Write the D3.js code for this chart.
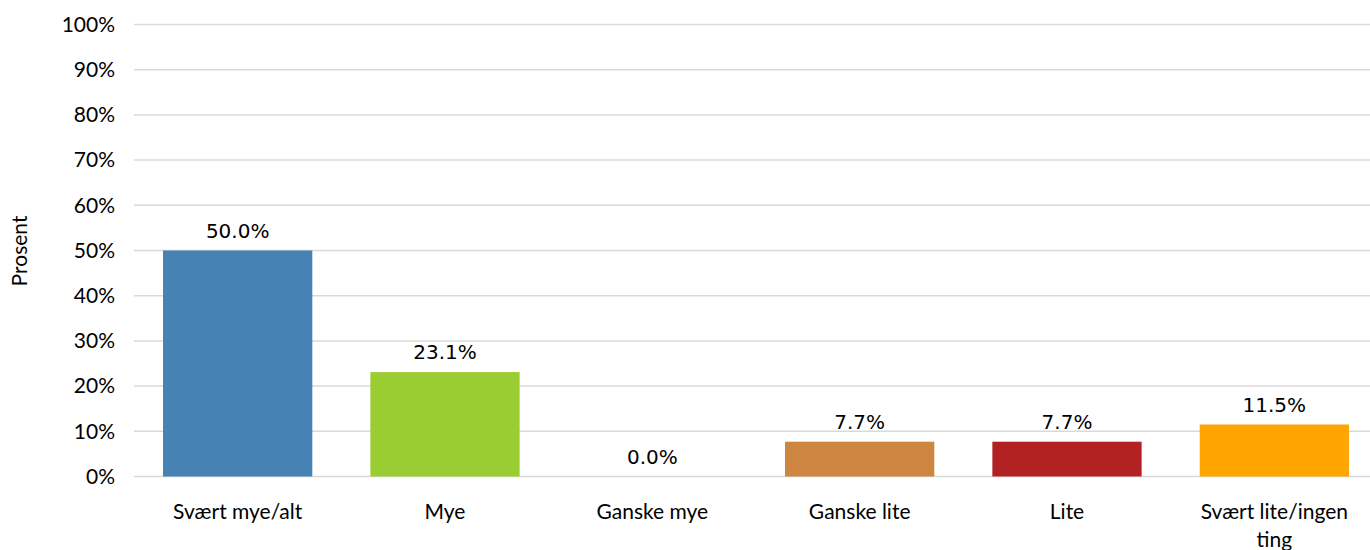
<!DOCTYPE html>
<meta charset="utf-8">
<html>
<head>
<style>
body { margin: 0; background: #fff; }
.tick text { font-family: Lato, "Open Sans", sans-serif; font-size: 21px; fill: #000; }
.lbl { font-family: "DejaVu Sans", sans-serif; font-size: 20px; fill: #000; }
</style>
</head>
<body>
<script src="https://d3js.org/d3.v7.min.js"></script>
<script>

var categories = ["Svært mye/alt", "Mye", "Ganske mye", "Ganske lite", "Lite", "Svært lite/ingen ting"];
var values = [50.0, 23.1, 0.0, 7.7, 7.7, 11.5];
var colors = ["#4682b4", "#9acd32", "#dc143c", "#cd853f", "#b22222", "#ffa500"];
var yTicks = [0, 10, 20, 30, 40, 50, 60, 70, 80, 90, 100];

var width = 1370, height = 550;

var svg = d3.select("body").append("svg")
  .attr("width", width)
  .attr("height", height);

var x = d3.scaleBand()
  .domain(categories)
  .range([134, 1378])
  .paddingInner(0.28)
  .paddingOuter(0.14);

var y = d3.scaleLinear()
  .domain([0, 100])
  .range([476.5, 24.5]);

// grid lines
svg.append("g")
  .selectAll("line")
  .data(yTicks)
  .enter().append("line")
  .attr("x1", 134)
  .attr("x2", width)
  .attr("y1", function(d) { return y(d); })
  .attr("y2", function(d) { return y(d); })
  .attr("stroke", "#d9d9d9")
  .attr("stroke-width", 1.5);

// y axis
var yAxis = d3.axisLeft(y)
  .tickValues(yTicks)
  .tickFormat(function(d) { return d + "%"; })
  .tickSize(0)
  .tickPadding(19);

var gy = svg.append("g")
  .attr("transform", "translate(134,0)")
  .call(yAxis);
gy.select(".domain").remove();

// bars
svg.selectAll(".bar")
  .data(values)
  .enter().append("rect")
  .attr("class", "bar")
  .attr("x", function(d, i) { return x(categories[i]); })
  .attr("width", x.bandwidth())
  .attr("y", function(d) { return y(d); })
  .attr("height", function(d) { return y(0) - y(d); })
  .attr("fill", function(d, i) { return colors[i]; });

// value labels
svg.selectAll(".lbl")
  .data(values)
  .enter().append("text")
  .attr("class", "lbl")
  .attr("x", function(d, i) { return x(categories[i]) + x.bandwidth() / 2; })
  .attr("y", function(d) { return y(d) - 13; })
  .attr("text-anchor", "middle")
  .text(function(d) { return d.toFixed(1) + "%"; });

// x axis
var xAxis = d3.axisBottom(x).tickSize(0).tickPadding(0);
var gx = svg.append("g")
  .attr("transform", "translate(0,476)")
  .call(xAxis);
gx.select(".domain").remove();
gx.selectAll(".tick text")
  .attr("dy", null)
  .attr("y", 43)
  .each(function(d) {
    var t = d3.select(this);
    if (d === "Svært lite/ingen ting") {
      t.text(null);
      t.append("tspan").attr("x", 0).attr("dy", 0).text("Svært lite/ingen");
      t.append("tspan").attr("x", 0).attr("dy", 28).text("ting");
    }
  });

// y axis title
svg.append("text")
  .attr("transform", "translate(27,251) rotate(-90)")
  .attr("text-anchor", "middle")
  .style("font-family", "Lato, sans-serif")
  .style("font-size", "21px")
  .text("Prosent");

</script>
</body>
</html>
